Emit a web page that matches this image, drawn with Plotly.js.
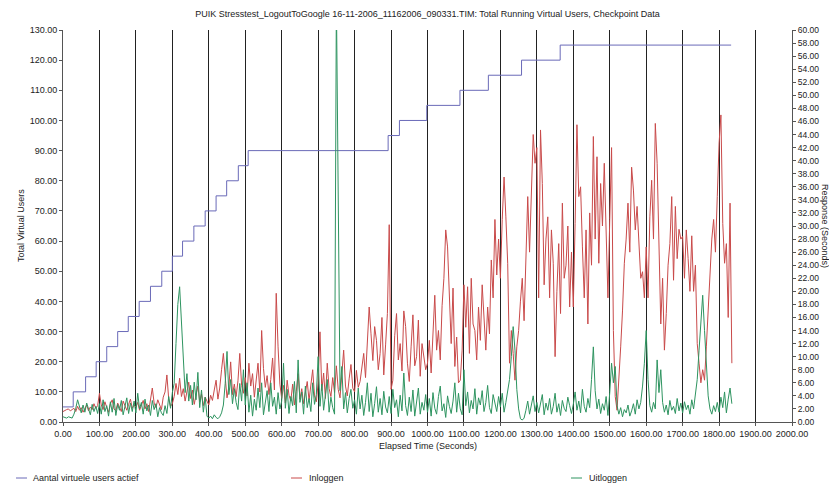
<!DOCTYPE html>
<html>
<head>
<meta charset="utf-8">
<script src="https://cdn.plot.ly/plotly-3.0.1.min.js"></script>
<style>html,body{margin:0;padding:0;background:#fff;}#chart{width:829px;height:493px;}</style>
</head>
<body>
<div id="chart"></div>
<script>
// Step series: total running virtual users (left axis)
const userTimes = [0, 28, 62, 91, 120, 150, 179, 209, 240, 271, 300, 328, 359, 390, 420, 449, 481, 508, 892, 923, 998, 1089, 1167, 1258, 1364, 1833];
const userCounts = [5, 10, 15, 20, 25, 30, 35, 40, 45, 50, 55, 60, 65, 70, 75, 80, 85, 90, 95, 100, 105, 110, 115, 120, 125, 125];

// Response times (right axis), one value every 5 seconds starting at 0 s
const inloggen = [
  1.6,1.8,1.9,2.0,1.7,1.9,2.1,1.6,2.4,1.8,2.2,1.5,2.0,2.6,1.7,2.3,1.9,2.8,2.1,2.5,
  4.4,2.6,1.9,3.1,2.2,1.5,2.8,3.4,2.0,1.7,2.9,2.3,1.6,3.2,2.4,1.8,2.7,3.5,2.1,2.6,
  2.3,3.0,1.8,2.6,3.3,2.0,2.8,1.6,3.6,5.2,2.9,2.2,3.4,2.5,1.9,3.8,4.6,7.2,3.5,2.4,
  2.8,3.9,5.9,4.2,6.7,3.9,5.1,3.2,4.5,6.1,3.6,4.9,2.7,3.9,5.5,3.1,4.3,2.5,3.8,3.2,
  2.6,4.1,3.3,4.9,6.4,3.5,5.2,8.0,10.5,6.9,3.7,5.4,9.2,4.2,5.8,3.9,6.3,10.5,5.6,4.4,
  6.8,4.0,9.0,5.5,7.4,3.8,6.2,9.0,4.6,14.0,8.2,5.3,7.1,4.2,6.5,9.8,4.9,19.7,11.5,5.8,
  3.6,5.6,2.9,6.4,4.1,3.2,5.8,2.6,4.7,7.4,3.5,5.1,2.8,4.4,6.2,3.3,5.5,8.0,4.0,3.1,
  6.0,13.8,4.8,7.5,3.6,9.0,5.1,3.9,6.8,4.5,8.6,5.0,3.7,7.2,11.0,5.5,4.0,6.6,8.8,5.2,
  4.6,7.9,5.3,6.2,8.8,10.5,6.8,13.0,17.6,13.5,9.4,14.6,12.5,8.0,10.5,16.0,7.2,11.8,16.6,30.2,
  5.0,6.4,13.2,16.6,9.5,12.0,7.8,17.0,14.6,9.0,6.2,11.5,16.4,8.6,10.0,15.6,7.0,12.0,9.5,8.0,
  9.0,12.5,7.5,14.0,19.4,11.0,14.0,9.5,17.8,22.0,29.4,26.8,17.6,12.0,20.5,8.5,13.0,6.0,6.4,11.0,
  21.0,14.5,20.7,10.5,22.0,15.0,14.0,9.5,17.6,12.5,21.0,15.6,11.0,17.6,13.5,24.8,19.0,31.0,22.5,28.0,
  22.0,31.0,37.5,31.4,24.3,9.0,14.0,10.5,6.4,11.5,14.0,18.5,22.0,15.5,27.0,34.5,26.0,33.5,44.0,39.6,
  42.0,19.0,44.7,36.5,21.0,28.0,31.4,19.0,29.4,24.3,10.0,20.0,27.3,16.6,33.5,22.0,24.0,30.0,17.6,26.0,
  17.6,30.4,45.5,34.5,36.0,26.8,19.0,29.4,15.0,32.0,24.0,43.7,28.0,40.6,24.3,36.5,30.0,39.6,27.0,19.0,
  31.0,42.0,14.0,3.9,1.8,6.0,11.5,17.0,24.3,28.0,33.5,26.0,39.0,35.5,29.4,33.0,28.4,22.0,23.0,19.0,
  26.8,19.0,31.4,37.0,28.0,45.7,39.6,29.0,15.0,22.0,11.0,16.6,24.0,27.3,34.5,21.7,33.0,25.0,29.5,28.0,
  28.4,22.0,29.4,25.0,20.0,28.5,20.0,24.0,12.0,9.0,6.0,8.0,6.4,11.5,17.0,23.0,28.0,31.0,26.0,34.5,
  42.7,47.0,30.4,24.3,27.3,16.0,33.5,9.0
];
const uitloggen = [
  0.8,0.7,0.6,0.8,0.7,0.6,1.2,2.1,3.4,2.2,1.4,2.6,1.5,2.9,1.8,1.1,2.7,1.6,2.4,1.3,
  2.8,1.2,3.4,1.6,2.5,0.9,3.1,1.5,3.6,1.0,2.7,1.8,3.3,1.1,2.4,3.7,1.3,2.9,1.6,3.2,
  1.4,4.4,2.0,3.0,1.2,3.5,1.7,2.6,1.0,3.3,1.9,2.8,0.8,2.2,1.4,1.0,2.5,1.3,3.9,2.1,
  4.5,5.9,12.0,18.0,20.7,15.0,8.0,4.5,7.4,3.2,5.6,2.6,6.1,3.4,7.6,2.2,4.9,1.5,3.8,0.9,
  0.6,0.9,0.5,1.1,0.7,0.5,0.8,1.4,2.6,5.9,10.8,4.2,6.5,2.8,5.1,3.0,1.9,5.9,3.2,8.0,
  2.6,6.0,1.5,4.1,0.9,3.5,1.8,5.2,2.2,6.0,1.1,3.4,4.8,1.6,6.0,2.4,3.8,1.2,4.5,2.0,
  3.2,9.0,2.1,5.0,1.3,3.9,2.5,6.2,1.4,9.5,3.0,4.6,1.2,5.5,2.2,3.6,1.6,6.0,2.7,4.2,
  10.0,2.4,5.8,1.8,4.0,6.5,1.5,3.8,2.2,1.2,65.0,32.0,4.8,8.5,2.0,4.5,1.4,3.6,5.0,2.1,
  3.4,1.2,5.2,2.0,4.1,1.0,3.0,6.0,1.6,4.4,0.8,2.8,5.4,1.5,3.6,1.1,4.7,2.3,1.4,3.9,
  1.3,5.0,2.2,3.4,0.8,4.1,1.7,7.5,2.5,1.0,3.8,1.6,4.9,0.9,2.7,5.2,1.2,3.0,1.8,4.2,
  1.5,3.6,0.9,4.5,2.1,1.2,3.9,5.5,1.7,2.8,0.7,4.0,2.4,1.3,3.2,6.0,1.5,4.4,2.0,1.1,
  8.0,2.5,4.6,1.4,3.3,2.0,5.1,1.2,3.7,2.6,4.8,1.6,3.0,5.6,2.2,1.3,4.2,2.8,1.6,3.9,
  2.3,4.4,1.5,3.0,4.6,6.5,10.0,14.6,11.0,5.0,2.0,0.5,0.3,0.6,1.8,3.2,1.2,2.5,4.0,1.6,
  3.0,1.4,2.6,4.2,1.1,2.9,1.8,3.6,1.2,2.4,4.4,1.5,2.8,1.0,3.3,2.1,1.6,3.8,2.5,1.3,
  2.7,4.6,1.8,3.2,1.4,5.0,2.4,1.5,3.6,2.2,6.5,11.5,4.8,2.0,3.5,1.3,2.8,1.8,3.9,1.0,
  4.5,9.0,6.0,8.5,2.5,1.2,2.2,0.8,1.9,1.4,2.6,0.9,1.7,2.8,1.2,3.4,2.0,3.0,5.5,9.0,
  14.0,6.5,2.5,1.5,3.0,2.0,9.5,4.5,8.0,3.0,1.5,2.6,1.1,3.3,1.8,2.4,1.3,3.6,1.7,2.9,
  1.4,3.1,1.9,2.6,1.2,3.4,2.0,4.0,6.5,11.0,16.0,19.4,14.0,8.0,4.0,2.0,1.2,2.5,1.6,3.0,
  1.5,3.8,2.2,4.6,1.4,3.5,5.2,2.8
];

const seriesNames = ['Aantal virtuele users actief', 'Inloggen', 'Uitloggen'];
const seriesColors = ['#6a6ab8', '#c94a4a', '#2e9460'];

const W = 829, H = 493;
const M = {l: 63, r: 37, t: 30, b: 71};
const PW = W - M.l - M.r, PH = H - M.t - M.b;
const px = x => (x - M.l) / PW;
const py = y => (H - M.b - y) / PH;

const FONT = 'Liberation Sans, Arial, sans-serif';
const TXT = '#222';

const traces = [
  {x: userTimes, y: userCounts, name: seriesNames[0], type: 'scatter', mode: 'lines',
   line: {color: seriesColors[0], width: 1, shape: 'hv'}, yaxis: 'y', showlegend: false},
  {y: inloggen, x0: 0, dx: 5, name: seriesNames[1], type: 'scatter', mode: 'lines',
   line: {color: seriesColors[1], width: 1}, yaxis: 'y2', showlegend: false},
  {y: uitloggen, x0: 0, dx: 5, name: seriesNames[2], type: 'scatter', mode: 'lines',
   line: {color: seriesColors[2], width: 1}, yaxis: 'y2', showlegend: false}
];

// legend keys (manual, to match the short key lines of the original)
const legendKeys = [{x0: 16, x1: 27, tx: 31}, {x0: 291, x1: 302, tx: 307}, {x0: 571, x1: 582, tx: 587}];
const legendY = 478;
const shapes = legendKeys.map((k, i) => ({
  type: 'line', xref: 'paper', yref: 'paper', x0: px(k.x0), x1: px(k.x1), y0: py(legendY), y1: py(legendY),
  line: {color: seriesColors[i], width: 1}
}));
const annotations = legendKeys.map((k, i) => ({
  xref: 'paper', yref: 'paper', x: px(k.tx), y: py(legendY), xanchor: 'left', yanchor: 'middle',
  text: seriesNames[i], showarrow: false, font: {family: FONT, size: 9, color: TXT}
}));
annotations.push(
  {xref: 'paper', yref: 'paper', x: 0.5, y: py(446), xanchor: 'center', yanchor: 'middle',
   text: 'Elapsed Time (Seconds)', showarrow: false, font: {family: FONT, size: 9, color: TXT}},
  {xref: 'paper', yref: 'paper', x: px(21), y: 0.5, xanchor: 'center', yanchor: 'middle', textangle: -90,
   text: 'Total Virtual Users', showarrow: false, font: {family: FONT, size: 9, color: TXT}},
  {xref: 'paper', yref: 'paper', x: px(825), y: 0.5, xanchor: 'center', yanchor: 'middle', textangle: 90,
   text: 'Response (Seconds)', showarrow: false, font: {family: FONT, size: 9, color: TXT}}
);

const axisCommon = {
  showline: true, linecolor: '#555', linewidth: 1, ticks: 'outside', ticklen: 3, tickcolor: '#555',
  tickfont: {family: FONT, size: 9, color: TXT}, tickformat: '.2f', zeroline: false, fixedrange: true
};

const layout = {
  width: W, height: H, margin: M, autosize: false,
  paper_bgcolor: '#fff', plot_bgcolor: '#fff', showlegend: false,
  title: {text: 'PUIK Stresstest_LogoutToGoogle 16-11-2006_11162006_090331.TIM: Total Running Virtual Users, Checkpoint Data',
          font: {family: FONT, size: 9, color: TXT}, x: 0.5, xref: 'paper', y: 1 - 14 / H, yref: 'container', yanchor: 'middle'},
  xaxis: Object.assign({}, axisCommon, {range: [0, 2000], dtick: 100, tick0: 0, showgrid: true, gridcolor: '#222', gridwidth: 1}),
  yaxis: Object.assign({}, axisCommon, {range: [0, 130], dtick: 10, tick0: 0, showgrid: false}),
  yaxis2: Object.assign({}, axisCommon, {range: [0, 60], dtick: 2, tick0: 0, showgrid: false, overlaying: 'y', side: 'right', tickfont: {family: FONT, size: 8.5, color: TXT}}),
  shapes: shapes,
  annotations: annotations
};

Plotly.newPlot('chart', traces, layout, {staticPlot: true, displayModeBar: false});
</script>
</body>
</html>
